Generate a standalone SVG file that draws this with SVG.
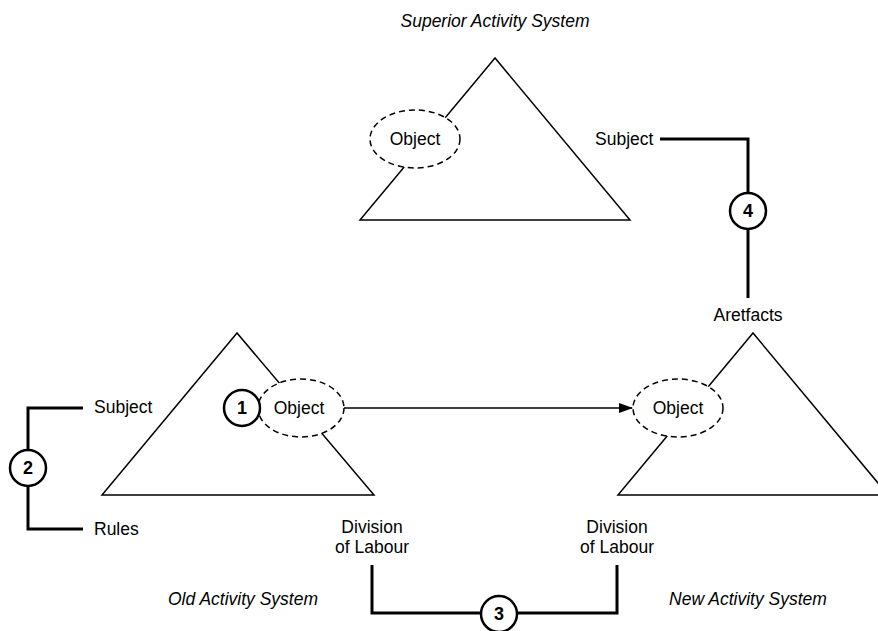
<svg xmlns="http://www.w3.org/2000/svg" width="878" height="631" viewBox="0 0 878 631">
<defs>
<style>
text{font-family:"Liberation Sans",Arial,sans-serif;font-size:17.5px;fill:#000}
.it{font-style:italic}
.num{font-weight:bold;font-size:18px;text-anchor:middle}
.mid{text-anchor:middle}
.tri{fill:none;stroke:#000;stroke-width:1.5;stroke-linejoin:miter}
.obj{fill:#fff;stroke:#000;stroke-width:1.5;stroke-dasharray:6 4}
.br{fill:none;stroke:#000;stroke-width:3}
.circ{fill:#fff;stroke:#000;stroke-width:2.5}
.arr{fill:none;stroke:#000;stroke-width:1.5}
</style>
<marker id="ah" markerWidth="14" markerHeight="10" refX="13" refY="5" orient="auto" markerUnits="userSpaceOnUse">
<path d="M0,0 L14,5 L0,10 Z" fill="#000"/>
</marker>
</defs>
<rect width="878" height="631" fill="#fff"/>

<g id="superior-system">
<polygon class="tri" points="495,58 360,220 630,220"/>
<ellipse class="obj" cx="415" cy="139" rx="45" ry="29"/>
<text class="mid" x="415" y="145">Object</text>
<text class="it mid" x="495" y="27">Superior Activity System</text>
<text x="595" y="145">Subject</text>
</g>

<g id="old-system">
<polygon class="tri" points="237,333 102,495 374,495"/>
<ellipse class="obj" cx="301" cy="408" rx="43" ry="29"/>
<text class="mid" x="299" y="414">Object</text>
<text x="94" y="413">Subject</text>
<text x="94" y="535">Rules</text>
<text class="mid" x="372" y="533">Division</text>
<text class="mid" x="372" y="553">of Labour</text>
<text class="it mid" x="243" y="605">Old Activity System</text>
</g>

<g id="new-system">
<polygon class="tri" points="753,333 618,495 888,495"/>
<ellipse class="obj" cx="678" cy="408" rx="45" ry="29"/>
<text class="mid" x="678" y="414">Object</text>
<text class="mid" x="748" y="321">Aretfacts</text>
<text class="mid" x="617" y="533">Division</text>
<text class="mid" x="617" y="553">of Labour</text>
<text class="it mid" x="748" y="605">New Activity System</text>
</g>

<g id="connectors">
<line class="arr" x1="344" y1="408" x2="632" y2="408" marker-end="url(#ah)"/>
<polyline class="br" points="83,408 28,408 28,529 83,529"/>
<polyline class="br" points="372,565 372,613 617,613 617,565"/>
<polyline class="br" points="660,139 748,139 748,298"/>
</g>

<g id="marker-1">
<circle class="circ" cx="242" cy="408" r="18"/>
<text class="num" x="242" y="414">1</text>
</g>
<g id="marker-2">
<circle class="circ" cx="28" cy="468" r="18"/>
<text class="num" x="28" y="474">2</text>
</g>
<g id="marker-3">
<circle class="circ" cx="499" cy="614" r="18"/>
<text class="num" x="499" y="620">3</text>
</g>
<g id="marker-4">
<circle class="circ" cx="748" cy="211" r="18"/>
<text class="num" x="748" y="217">4</text>
</g>
</svg>
